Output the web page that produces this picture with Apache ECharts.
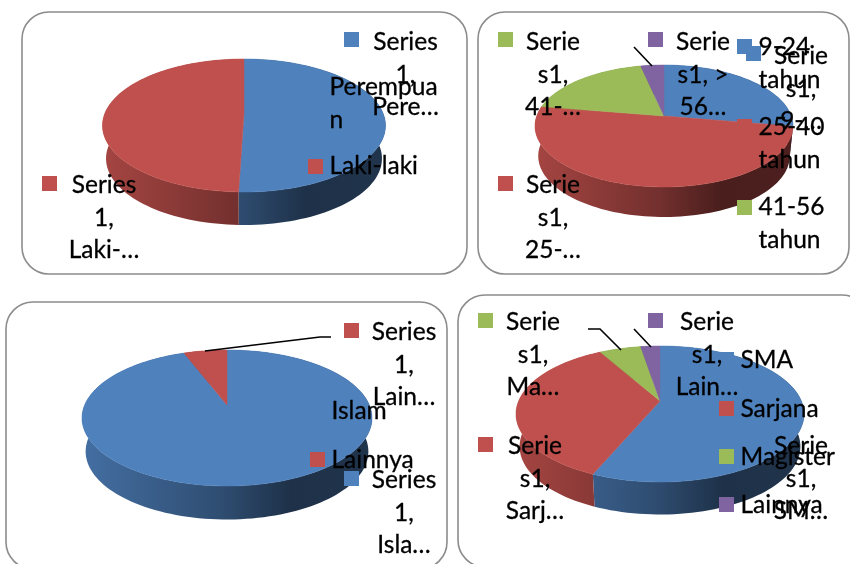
<!DOCTYPE html>
<html>
<head>
<meta charset="utf-8">
<style>
  html, body { margin: 0; padding: 0; background: #fff; }
  /* reference is a soft upscaled scan */
  #chart { width: 850px; height: 564px; filter: blur(0.4px); }
</style>
<script src="https://cdn.jsdelivr.net/npm/echarts@6/dist/echarts.min.js"></script>
</head>
<body>
<div id="chart"></div>
<script>
// data
const genderCategories = ['Perempuan', 'Laki-laki'];
const genderValues = [50.5, 49.5];
const ageCategories = ['9-24 tahun', '25-40 tahun', '41-56 tahun', '> 56 tahun'];
const ageValues = [27.7, 49.9, 19, 3.4];
const religionCategories = ['Islam', 'Lainnya'];
const religionValues = [94.2, 5.8];
const educationCategories = ['SMA', 'Sarjana', 'Magister', 'Lainnya'];
const educationValues = [56.4, 35.4, 5.6, 2.6];

const BLUE = '#4f81bd', RED = '#c0504d', GREEN = '#9bbb59', PURPLE = '#8064a2';
const sliceColors = [BLUE, RED, GREEN, PURPLE];
const FONT = '24.5px Lato';
const LINE_H = 32.6;

// rounded frames behind the pies
const panels = [
  { x: 22, y: 12, w: 445, h: 262 },
  { x: 478, y: 12, w: 371, h: 262 },
  { x: 6, y: 302, w: 441, h: 267 },
  { x: 458, y: 295, w: 411, h: 272 }
];

// pie geometry: apex, top/bottom of the tilted disc, half width, wall height
const pies = [
  { values: genderValues, names: genderCategories, cx: 244, apexY: 113, top: 59, bottom: 192, rx: 141.5, depth: 33 },
  { values: ageValues, names: ageCategories, cx: 664, apexY: 116, top: 65, bottom: 187, rx: 129, depth: 30 },
  { values: religionValues, names: religionCategories, cx: 227, apexY: 405, top: 350, bottom: 486, rx: 145, depth: 33.5 },
  { values: educationValues, names: educationCategories, cx: 660, apexY: 401, top: 346, bottom: 482, rx: 144, depth: 32.5 }
];

// data labels: coloured square, centre of the text, first line centre
const dataLabels = [
  { c: BLUE, sx: 344, sy: 32, x: 405.5, y: 42, lines: ['Series', '1,', 'Pere…'] },
  { c: RED, sx: 42, sy: 176, x: 104, y: 185, lines: ['Series', '1,', 'Laki-…'] },
  { c: GREEN, sx: 498, sy: 32, x: 553, y: 42, lines: ['Serie', 's1,', '41-…'] },
  { c: PURPLE, sx: 648, sy: 32, x: 703, y: 42, lines: ['Serie', 's1, >', '56…'] },
  { c: BLUE, sx: 746, sy: 46, x: 801, y: 56, lines: ['Serie', 's1,', '9-…'] },
  { c: RED, sx: 498, sy: 176, x: 553, y: 185, lines: ['Serie', 's1,', '25-…'] },
  { c: RED, sx: 344, sy: 323, x: 404, y: 332, lines: ['Series', '1,', 'Lain…'] },
  { c: BLUE, sx: 344, sy: 471, x: 404, y: 480, lines: ['Series', '1,', 'Isla…'] },
  { c: GREEN, sx: 478, sy: 313, x: 533, y: 322, lines: ['Serie', 's1,', 'Ma…'] },
  { c: PURPLE, sx: 648, sy: 313, x: 707, y: 322, lines: ['Serie', 's1,', 'Lain…'] },
  { c: RED, sx: 478, sy: 437, x: 535, y: 446, lines: ['Serie', 's1,', 'Sarj…'] },
  { c: BLUE, sx: 746, sy: 436, x: 801, y: 446, lines: ['Serie', 's1,', 'SM…'] }
];

// legend entries: square and left aligned text
const legendItems = [
  { c: BLUE, sx: 308, sy: 80, x: 329.5, y: 87, lines: ['Perempua', 'n'] },
  { c: RED, sx: 308, sy: 159, x: 329.5, y: 166, lines: ['Laki-laki'] },
  { c: BLUE, sx: 737, sy: 39, x: 758.5, y: 47, lines: ['9-24', 'tahun'] },
  { c: RED, sx: 737, sy: 119, x: 758.5, y: 127, lines: ['25-40', 'tahun'] },
  { c: GREEN, sx: 737, sy: 200, x: 758.5, y: 207, lines: ['41-56', 'tahun'] },
  { c: BLUE, sx: 310, sy: 404, x: 331.5, y: 411, lines: ['Islam'] },
  { c: RED, sx: 310, sy: 452, x: 331.5, y: 460, lines: ['Lainnya'] },
  { c: BLUE, sx: 719, sy: 352, x: 740.5, y: 360, lines: ['SMA'] },
  { c: RED, sx: 719, sy: 401, x: 740.5, y: 409, lines: ['Sarjana'] },
  { c: GREEN, sx: 719, sy: 449, x: 740.5, y: 457, lines: ['Magister'] },
  { c: PURPLE, sx: 719, sy: 497, x: 740.5, y: 505, lines: ['Lainnya'] }
];

const leaderLines = [
  [[634, 47], [652, 66]],
  [[205, 351], [320, 337], [331, 337]],
  [[588, 329], [600, 329], [621, 350]],
  [[634, 329], [651, 347]]
];

function shade(hex, f) {
  const n = parseInt(hex.slice(1), 16);
  const ch = s => Math.round(((n >> s) & 255) * f);
  return 'rgb(' + ch(16) + ',' + ch(8) + ',' + ch(0) + ')';
}

// the disc is a circle seen in perspective, so the apex sits above the ellipse centre
function makeProjection(pie) {
  const up = pie.apexY - pie.top, low = pie.bottom - pie.apexY;
  const k = (low - up) / (low + up);
  const S = up * (1 + k);
  const off = (low - up) / 2;
  const v0 = (off / S) / (1 + k * off / S);
  const widen = Math.sqrt(1 - v0 * v0) / (1 - k * v0);
  const R = pie.rx / widen;
  return function (deg, xScale, dy) {
    const a = deg * Math.PI / 180;
    const u = Math.sin(a), v = -Math.cos(a), w = 1 - k * v;
    return [pie.cx + xScale * R * u / w, pie.apexY + S * v / w + dy];
  };
}

function arcPoints(project, from, to, xScale, dy) {
  const pts = [];
  const n = Math.max(2, Math.ceil((to - from) / 2));
  for (let i = 0; i <= n; i++) pts.push(project(from + (to - from) * i / n, xScale, dy));
  return pts;
}

function wallFill(pie, color) {
  return {
    type: 'linear', global: true,
    x: pie.cx - pie.rx, y: 0, x2: pie.cx + pie.rx, y2: 0,
    colorStops: [
      { offset: 0, color: shade(color, 0.86) },
      { offset: 0.48, color: shade(color, 0.6) },
      { offset: 0.72, color: shade(color, 0.38) },
      { offset: 1, color: shade(color, 0.4) }
    ]
  };
}

function pieSeries(pie) {
  const project = makeProjection(pie);
  const total = pie.values.reduce((a, b) => a + b, 0);
  const angleRange = (params, api) => {
    let sum = 0;
    for (let i = 0; i < params.dataIndex; i++) sum += pie.values[i];
    return [sum / total * 360, (sum + api.value(0)) / total * 360];
  };
  const data = pie.values.map((v, i) => ({ name: pie.names[i], value: v }));
  const walls = {
    type: 'custom', coordinateSystem: 'none', silent: true, z: 2, data: data,
    renderItem(params, api) {
      const [from, to] = angleRange(params, api);
      const upper = arcPoints(project, from, to, 1, 0);
      const lower = arcPoints(project, from, to, 0.975, pie.depth).reverse();
      const fill = wallFill(pie, sliceColors[params.dataIndex]);
      return { type: 'polygon', shape: { points: upper.concat(lower) }, style: { fill: fill } };
    }
  };
  const tops = {
    type: 'custom', coordinateSystem: 'none', silent: true, z: 3, data: data,
    renderItem(params, api) {
      const [from, to] = angleRange(params, api);
      const pts = [[pie.cx, pie.apexY]].concat(arcPoints(project, from, to, 1, 0));
      const color = sliceColors[params.dataIndex];
      return { type: 'polygon', shape: { points: pts }, style: { fill: color, stroke: color, lineWidth: 0.5 } };
    }
  };
  return [walls, tops];
}

const graphics = [];
panels.forEach(p => {
  graphics.push({
    type: 'rect', z: 1, silent: true,
    shape: { x: p.x, y: p.y, width: p.w, height: p.h, r: 27 },
    style: { fill: '#fff', stroke: '#8c8c8c', lineWidth: 1.6 }
  });
});
leaderLines.forEach(points => {
  graphics.push({
    type: 'polyline', z: 5, silent: true,
    shape: { points: points },
    style: { fill: 'none', stroke: '#000', lineWidth: 1.6 }
  });
});
function addLabel(item, align) {
  graphics.push({
    type: 'rect', z: 6, silent: true,
    shape: { x: item.sx, y: item.sy, width: 15, height: 15 },
    style: { fill: item.c }
  });
  graphics.push({
    type: 'text', z: 7, silent: true,
    style: {
      text: item.lines.join('\n'), x: item.x, y: item.y - LINE_H / 2,
      font: FONT, lineHeight: LINE_H, fill: '#000', stroke: '#000', lineWidth: 0.3,
      align: align, verticalAlign: 'top'
    }
  });
}
dataLabels.forEach(d => addLabel(d, 'center'));
legendItems.forEach(d => addLabel(d, 'left'));

const chart = echarts.init(document.getElementById('chart'));
chart.setOption({
  animation: false,
  backgroundColor: '#fff',
  graphic: { elements: graphics },
  series: pies.flatMap(pieSeries)
});
</script>
</body>
</html>
